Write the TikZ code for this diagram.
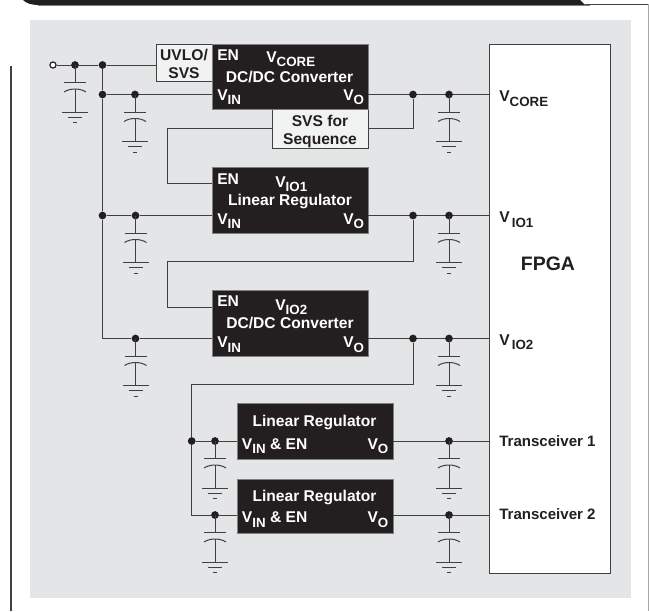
\documentclass[tikz,border=0pt]{standalone}
\usepackage{fontspec}
\usepackage{amsmath}
\setmainfont{Liberation Sans}
\definecolor{panel}{HTML}{E4E5E7}
\definecolor{ink}{HTML}{231F20}
\definecolor{wire}{HTML}{404040}
\definecolor{lightbox}{HTML}{F1F2F2}
\newcommand{\vsub}[2][10]{V\raisebox{-3.4pt}{\fontsize{#1}{#1}\selectfont #2}}

\begin{document}
\begin{tikzpicture}[x=0.75pt,y=-0.75pt,font=\fontsize{11.7}{14}\selectfont\bfseries,text=ink,
  wired/.style={draw=wire,line width=0.75pt},
  dot/.style={circle,fill=ink,inner sep=0pt,minimum size=5.8pt},
  blackbox/.style={draw=gray,line width=0.4pt,fill=ink,minimum width=117pt,inner sep=0pt},
  palebox/.style={draw=wire,line width=0.6pt,fill=lightbox,inner sep=0pt},
  lab/.style={inner sep=0pt,anchor=base west},
  labc/.style={inner sep=0pt,anchor=base},
  whitelab/.style={text=white},
  capgnd/.pic={
    \draw[wired] (0,0) -- (0,17.5) (-11,17.5) -- (11,17.5);
    \draw[wired] (-11,27) .. controls (-5,23) and (5,23) .. (11,27);
    \draw[wired] (0,24) -- (0,47) (-13,47) -- (13,47);
    \draw[wired] (-7,52) -- (7,52) (-2,57.5) -- (2,57.5);
  }]
\useasboundingbox (0,0) rectangle (649,611);
\fill[panel] (30,20) rectangle (631,598);

%page furniture
\fill[ink] (23,0) .. controls (26,3) and (31,5) .. (38,5) -- (585,5) -- (580,0) -- cycle;
\draw[gray,line width=0.6pt] (38,5.2) -- (590,5.2);
\draw[wire,line width=0.6pt] (585,4) -- (649,4);
\draw[gray!70,line width=0.6pt] (648,4) -- (648,611);
\draw[wire,line width=0.8pt] (11,66) -- (11,611);

%boxes
\node (uvlo) [palebox,minimum width=42pt,minimum height=27.75pt] at (184,62.5) {};
\node (svs) [palebox,minimum width=72pt,minimum height=29.25pt] at (320,128.5) {};
\node (dcone) [blackbox,minimum height=48.75pt] at (290,76.5) {};
\node (lrone) [blackbox,minimum height=49.5pt] at (290,200) {};
\node (dctwo) [blackbox,minimum height=49.5pt] at (290,323) {};
\node (lra) [blackbox,minimum height=42pt] at (315,431) {};
\node (lrb) [blackbox,minimum height=40.5pt] at (315,506) {};
\node (fpga) [draw=wire,line width=0.75pt,fill=white,minimum width=90.75pt,minimum height=396.75pt,inner sep=0pt] at (549.5,308.5) {};

%junctions
\node (vin) [circle,draw=ink,line width=0.9pt,fill=white,inner sep=0pt,minimum size=4.6pt] at (53,65) {};
\node (ja) [dot] at (75,65) {};
\node (jb) [dot] at (102.5,65) {};
\node (jc) [dot] at (102.5,94.5) {};
\node (jd) [dot] at (102.5,215.5) {};
\coordinate (je) at (102.5,338.5);
\node (ca) [dot] at (135,94.5) {};
\node (cb) [dot] at (135.5,215.5) {};
\node (cc) [dot] at (135.5,338.5) {};
\node (oa) [dot] at (413,94.5) {};
\node (ob) [dot] at (413,215.5) {};
\node (oc) [dot] at (413,338.5) {};
\node (pa) [dot] at (449,94.5) {};
\node (pb) [dot] at (449,215.5) {};
\node (pc) [dot] at (449,338.5) {};
\node (pd) [dot] at (449,441) {};
\node (pe) [dot] at (449,515) {};
\node (js) [dot] at (191.7,441) {};
\node (qa) [dot] at (215,441) {};
\node (qb) [dot] at (215,515) {};
\coordinate (ena) at (167.5,183.5);
\coordinate (turnb) at (413,261);
\coordinate (enb) at (167.5,307);
\coordinate (turnc) at (413,384);
\coordinate (cornd) at (191.7,515);

%wires
\draw[wired] (vin) -- (ja) -- (jb) -- (jb -| uvlo.west);
\draw[wired] (jb) -- (jc) -- (jd) -- (je) -- (cc);
\draw[wired] (jc) -- (ca) -- (ca -| dcone.west);
\draw[wired] (jd) -- (cb) -- (cb -| lrone.west);
\draw[wired] (cc) -- (cc -| dctwo.west);
\draw[wired] (oa -| dcone.east) -- (oa) -- (pa) -- (pa -| fpga.west);
\draw[wired] (oa) -- (oa |- svs.east) -- (svs.east);
\draw[wired] (svs.west) -| (ena) -- (ena -| lrone.west);
\draw[wired] (ob -| lrone.east) -- (ob) -- (pb) -- (pb -| fpga.west);
\draw[wired] (ob) -- (turnb) -| (enb) -- (enb -| dctwo.west);
\draw[wired] (oc -| dctwo.east) -- (oc) -- (pc) -- (pc -| fpga.west);
\draw[wired] (oc) -- (turnc) -| (js);
\draw[wired] (js) -- (qa) -- (qa -| lra.west);
\draw[wired] (js) -- (cornd) -- (qb) -- (qb -| lrb.west);
\draw[wired] (pd -| lra.east) -- (pd) -- (pd -| fpga.west);
\draw[wired] (pe -| lrb.east) -- (pe) -- (pe -| fpga.west);

%capacitors
\pic at (ja) {capgnd};
\pic at (ca) {capgnd};
\pic at (cb) {capgnd};
\pic at (cc) {capgnd};
\pic at (pa) {capgnd};
\pic at (pb) {capgnd};
\pic at (pc) {capgnd};
\pic at (pd) {capgnd};
\pic at (pe) {capgnd};
\pic at (qa) {capgnd};
\pic at (qb) {capgnd};

%text
\node (uvlot) [labc] at (184,60.7) {UVLO/};
\node (uvlob) [labc] at (184,78.7) {SVS};
\node (svst) [labc] at (320,126.7) {SVS for};
\node (svsb) [labc] at (320,144) {Sequence};
\node (dconeen) [lab,whitelab] at (217,60) {EN};
\node (dconev) [lab,whitelab] at (266,62) {\vsub[10]{CORE}};
\node (dconet) [labc,whitelab] at (289.5,82.3) {DC/DC Converter};
\node (dconein) [lab,whitelab] at (217,100) {\vsub{IN}};
\node (dconeo) [lab,whitelab] at (343,100) {\vsub{O}};
\node (lroneen) [lab,whitelab] at (217,184) {EN};
\node (lronev) [lab,whitelab] at (275,187) {\vsub{IO1}};
\node (lronet) [labc,whitelab] at (290,205.5) {Linear Regulator};
\node (lronein) [lab,whitelab] at (217,224) {\vsub{IN}};
\node (lroneo) [lab,whitelab] at (343,224) {\vsub{O}};
\node (dctwoen) [lab,whitelab] at (217,306.7) {EN};
\node (dctwov) [lab,whitelab] at (275,310) {\vsub{IO2}};
\node (dctwot) [labc,whitelab] at (290,328.5) {DC/DC Converter};
\node (dctwoin) [lab,whitelab] at (217,347.7) {\vsub{IN}};
\node (dctwoo) [lab,whitelab] at (343,347.7) {\vsub{O}};
\node (lrat) [labc,whitelab] at (314.5,426) {Linear Regulator};
\node (lrain) [lab,whitelab] at (241.7,449.3) {\vsub{IN} \& EN};
\node (lrao) [lab,whitelab] at (367.3,449.3) {\vsub{O}};
\node (lrbt) [labc,whitelab] at (314.5,501) {Linear Regulator};
\node (lrbin) [lab,whitelab] at (241.7,522.7) {\vsub{IN} \& EN};
\node (lrbo) [lab,whitelab] at (367.3,522.7) {\vsub{O}};
\node (fcore) [lab] at (499,101.7) {\vsub{CORE}};
\node (fioa) [lab] at (499,222.7) {\vsub{\,IO1}};
\node (fiob) [lab] at (499,345) {\vsub{\,IO2}};
\node (ftitle) [labc,font=\fontsize{14.6}{16}\selectfont\bfseries] at (548,270.7) {FPGA};
\node (ftra) [lab,font=\fontsize{11.3}{14}\selectfont\bfseries] at (499,446) {Transceiver 1};
\node (ftrb) [lab,font=\fontsize{11.3}{14}\selectfont\bfseries] at (499,519.3) {Transceiver 2};
\end{tikzpicture}
\end{document}
